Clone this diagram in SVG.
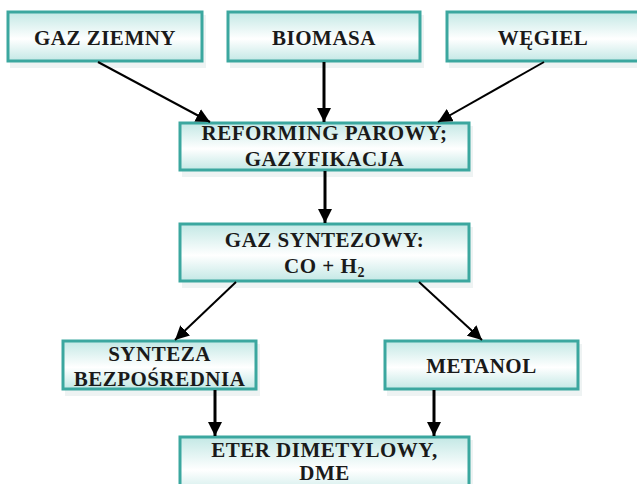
<svg xmlns="http://www.w3.org/2000/svg" width="637" height="484" viewBox="0 0 637 484">
<defs>
<linearGradient id="boxfill" x1="0" y1="0" x2="0" y2="1">
<stop offset="0" stop-color="#c3e8e5"/>
<stop offset="0.55" stop-color="#ffffff"/>
<stop offset="1" stop-color="#c3e8e5"/>
</linearGradient>
<marker id="arr" markerUnits="userSpaceOnUse" markerWidth="14" markerHeight="14" viewBox="0 0 14 14" refX="14" refY="7" orient="auto">
<path d="M0,0 L14,7 L0,14 Z" fill="#000"/>
</marker>
</defs>
<style>
.box{fill:url(#boxfill);stroke:#3ba79f;stroke-width:3}
.sh{fill:#eef3f3}
.t{font-family:'Liberation Serif','DejaVu Serif',serif;font-weight:700;font-size:21px;fill:#1a1a1a;text-anchor:middle;letter-spacing:0.5px}
.c{stroke:#000;fill:none;marker-end:url(#arr)}
.d{stroke-width:2}
.v{stroke-width:3}
</style>
<rect width="637" height="484" fill="#fff"/>
<g id="n-gaz-ziemny">
<rect class="sh" x="10" y="15" width="196" height="53"/>
<rect class="box" x="8" y="12" width="194" height="49"/>
<text class="t" x="105" y="45" font-family="Liberation Serif, serif">GAZ ZIEMNY</text>
</g>
<g id="n-biomasa">
<rect class="sh" x="230" y="15" width="194" height="53"/>
<rect class="box" x="228" y="12" width="192" height="49"/>
<text class="t" x="324" y="45" font-family="Liberation Serif, serif">BIOMASA</text>
</g>
<g id="n-wegiel">
<rect class="sh" x="449" y="15" width="200" height="53"/>
<rect class="box" x="447" y="12" width="200" height="49"/>
<text class="t" x="543" y="45" font-family="Liberation Serif, serif">WĘGIEL</text>
</g>
<g id="n-reforming">
<rect class="sh" x="182" y="126" width="291" height="51"/>
<rect class="box" x="180" y="123" width="289" height="47"/>
<text class="t" x="324.5" y="140" font-family="Liberation Serif, serif">REFORMING PAROWY;</text>
<text class="t" x="324.5" y="166" font-family="Liberation Serif, serif">GAZYFIKACJA</text>
</g>
<g id="n-gaz-syntezowy">
<rect class="sh" x="182" y="227" width="291" height="61"/>
<rect class="box" x="180" y="224" width="289" height="57"/>
<text class="t" x="324.5" y="247" font-family="Liberation Serif, serif">GAZ SYNTEZOWY:</text>
<text class="t" x="324.5" y="273" font-family="Liberation Serif, serif">CO + H<tspan font-size="14" dy="4">2</tspan></text>
</g>
<g id="n-synteza">
<rect class="sh" x="65" y="344" width="195" height="52"/>
<rect class="box" x="63" y="341" width="193" height="48"/>
<text class="t" x="159.5" y="361" font-family="Liberation Serif, serif">SYNTEZA</text>
<text class="t" x="159.5" y="386" font-family="Liberation Serif, serif">BEZPOŚREDNIA</text>
</g>
<g id="n-metanol">
<rect class="sh" x="387" y="344" width="195" height="52"/>
<rect class="box" x="385" y="341" width="193" height="48"/>
<text class="t" x="481.5" y="373" font-family="Liberation Serif, serif">METANOL</text>
</g>
<g id="n-eter">
<rect class="sh" x="182" y="440" width="291" height="60"/>
<rect class="box" x="180" y="437" width="289" height="60"/>
<text class="t" x="324.5" y="457" font-family="Liberation Serif, serif">ETER DIMETYLOWY,</text>
<text class="t" x="324.5" y="480" font-family="Liberation Serif, serif">DME</text>
</g>
<g id="connectors">
<line class="c d" x1="98" y1="62" x2="210" y2="122"/>
<line class="c v" x1="324" y1="62" x2="324" y2="122"/>
<line class="c d" x1="544" y1="62" x2="438" y2="122"/>
<line class="c v" x1="325" y1="171" x2="325" y2="223"/>
<line class="c d" x1="236" y1="282" x2="175" y2="340"/>
<line class="c d" x1="419" y1="282" x2="482" y2="340"/>
<line class="c v" x1="215" y1="390" x2="215" y2="436"/>
<line class="c v" x1="434" y1="390" x2="434" y2="436"/>
</g>
</svg>
